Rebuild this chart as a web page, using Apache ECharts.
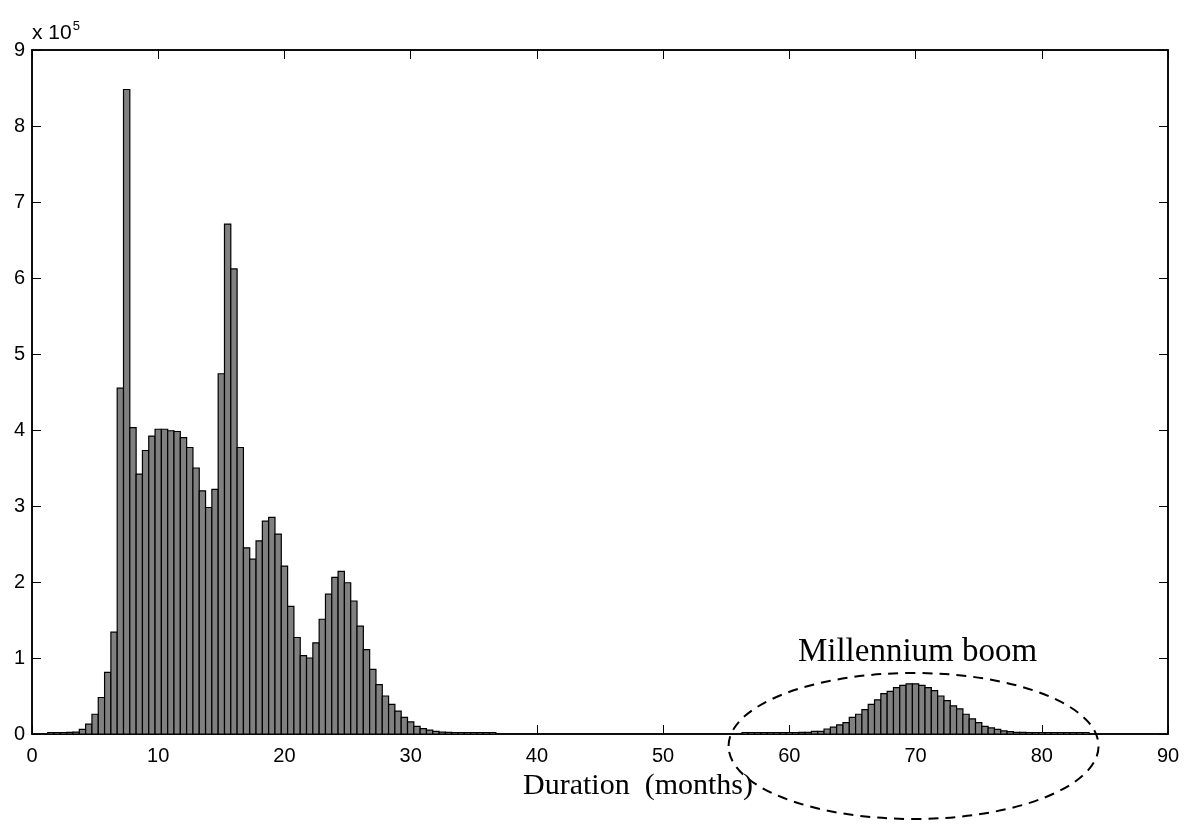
<!DOCTYPE html>
<html>
<head>
<meta charset="utf-8">
<script src="https://cdn.jsdelivr.net/npm/echarts@6/dist/echarts.min.js"></script>
<style>
html,body{margin:0;padding:0;background:#fff;}
#chart{width:1184px;height:828px;}
</style>
</head>
<body>
<div id="chart"></div>
<script>
// Histogram bin centres (months) and counts (units of 1e5)
const bins1 = [1.5,2,2.5,3,3.5,4,4.5,5,5.5,6,6.5,7,7.5,8,8.5,9,9.5,10,10.5,11,11.5,12,12.5,13,13.5,14,14.5,15,15.5,16,16.5,17,17.5,18,18.5,19,19.5,20,20.5,21,21.5,22,22.5,23,23.5,24,24.5,25,25.5,26,26.5,27,27.5,28,28.5,29,29.5,30,30.5,31,31.5,32,32.5,33,33.5,34,34.5,35,35.5,36,36.5];
const counts1 = [0.02,0.02,0.02,0.022,0.025,0.06,0.13,0.26,0.48,0.81,1.34,4.55,8.48,4.03,3.42,3.73,3.92,4.01,4.01,3.99,3.98,3.90,3.77,3.50,3.20,2.98,3.22,4.74,6.71,6.12,3.77,2.45,2.30,2.54,2.80,2.85,2.63,2.21,1.68,1.27,1.03,1.00,1.20,1.51,1.84,2.06,2.14,1.99,1.75,1.42,1.11,0.85,0.65,0.50,0.39,0.30,0.22,0.16,0.10,0.07,0.05,0.035,0.025,0.022,0.02,0.02,0.02,0.02,0.02,0.02,0.02];
const bins2 = [56.5,57,57.5,58,58.5,59,59.5,60,60.5,61,61.5,62,62.5,63,63.5,64,64.5,65,65.5,66,66.5,67,67.5,68,68.5,69,69.5,70,70.5,71,71.5,72,72.5,73,73.5,74,74.5,75,75.5,76,76.5,77,77.5,78,78.5,79,79.5,80,80.5,81,81.5,82,82.5,83,83.5];
const counts2 = [0.02,0.02,0.02,0.02,0.02,0.02,0.02,0.02,0.02,0.022,0.022,0.035,0.035,0.066,0.09,0.12,0.15,0.22,0.26,0.32,0.39,0.45,0.53,0.56,0.61,0.64,0.66,0.66,0.64,0.61,0.57,0.50,0.44,0.37,0.33,0.26,0.20,0.15,0.10,0.08,0.06,0.04,0.03,0.022,0.022,0.02,0.02,0.02,0.02,0.02,0.02,0.02,0.02,0.02,0.02];
const binWidth = 0.5;
const xTicks = [0,10,20,30,40,50,60,70,80,90];
const yTicks = [0,1,2,3,4,5,6,7,8,9];
const annotationText = 'Millennium boom';
const xTitle = 'Duration  (months)';

const data = [];
bins1.forEach((b,i)=>data.push([b, counts1[i]]));
bins2.forEach((b,i)=>data.push([b, counts2[i]]));

const chart = echarts.init(document.getElementById('chart'), null, {renderer:'canvas'});
const axisLine = {show:true, onZero:false, lineStyle:{color:'#000', width:1.5}};
const tick = {show:true, inside:true, length:9, lineStyle:{color:'#000', width:1}};
const sans = 'Liberation Sans, Arial, Helvetica, sans-serif';
const serif = 'Liberation Serif, Times New Roman, serif';

function renderBar(params, api){
  const x = api.value(0), y = api.value(1);
  const p0 = api.coord([x - binWidth/2, y]);
  const p1 = api.coord([x + binWidth/2, 0]);
  return {type:'rect',
    shape:{x:p0[0], y:p0[1], width:p1[0]-p0[0], height:p1[1]-p0[1]},
    style:{fill:'#808080', stroke:'#000', lineWidth:1.2}};
}

chart.setOption({
  backgroundColor:'#fff',
  animation:false,
  grid:{left:32, right:16, top:50, bottom:94, show:true, borderColor:'#000', borderWidth:1.5, backgroundColor:'transparent'},
  xAxis:[
    {type:'value', position:'bottom', min:0, max:90, interval:10,
     axisLine:axisLine, axisTick:tick, splitLine:{show:false},
     axisLabel:{color:'#000', fontSize:20, fontFamily:sans, margin:12,
       formatter:v=>xTicks.includes(v)?String(v):''}},
    {type:'value', position:'top', min:0, max:90, interval:10,
     axisLine:axisLine, axisTick:tick, splitLine:{show:false}, axisLabel:{show:false}}
  ],
  yAxis:[
    {type:'value', position:'left', min:0, max:9, interval:1,
     axisLine:axisLine, axisTick:tick, splitLine:{show:false},
     axisLabel:{color:'#000', fontSize:20, fontFamily:sans, margin:7,
       formatter:v=>yTicks.includes(v)?String(v):''}},
    {type:'value', position:'right', min:0, max:9, interval:1,
     axisLine:axisLine, axisTick:tick, splitLine:{show:false}, axisLabel:{show:false}}
  ],
  series:[
    {type:'custom', xAxisIndex:0, yAxisIndex:0, data:data, renderItem:renderBar},
    {type:'custom', xAxisIndex:1, yAxisIndex:1, data:[], renderItem:renderBar}
  ]
});

const c = chart.convertToPixel({xAxisIndex:0, yAxisIndex:0}, [70, 0]);
chart.setOption({
  graphic:[
    {type:'text', left:32, top:20,
     style:{text:'x 10{s|5}', fill:'#000', font:'21px '+sans,
       rich:{s:{fontSize:13, fontFamily:sans, verticalAlign:'top', padding:[0,0,14,1]}}}},
    {type:'ellipse', shape:{cx:c[0]-2, cy:c[1]+12, rx:185, ry:73},
     style:{fill:'none', stroke:'#000', lineWidth:2, lineDash:[10,7]}, z:10},
    {type:'text', x:c[0]+2, y:652,
     style:{text:annotationText, fill:'#000', font:'33px '+serif, align:'center', verticalAlign:'middle'}},
    {type:'text', x:638, y:786,
     style:{text:xTitle, fill:'#000', font:'30px '+serif, align:'center', verticalAlign:'middle'}}
  ]
});
</script>
</body>
</html>
